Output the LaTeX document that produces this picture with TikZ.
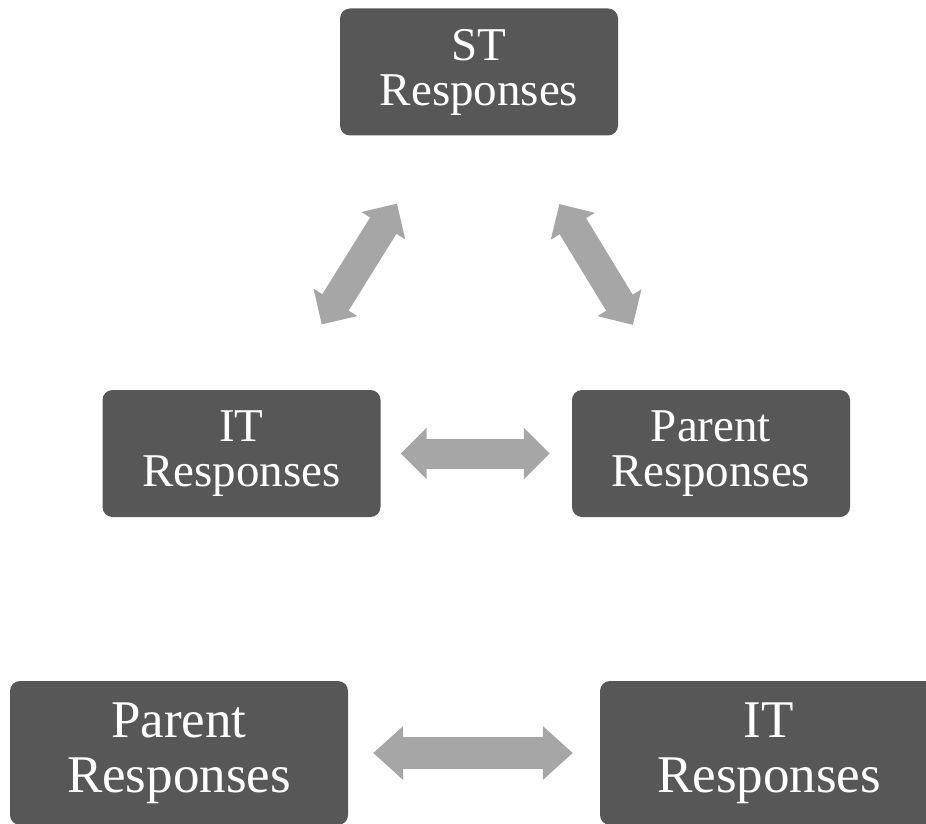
\documentclass[tikz,border=0pt]{standalone}
\usepackage{fontspec}
\setmainfont{Liberation Serif}
\usetikzlibrary{arrows.meta}

\begin{document}
\begin{tikzpicture}[
        % Environment Config
        x=1pt, y=-1pt,
        MyBox/.style={% Style for the response boxes
          rounded corners=10pt,
          fill=black!66,
          text=white,
          align=center,
          inner sep=0pt,
          minimum width=278pt,
          minimum height=127pt,
          font=\fontsize{47}{45}\selectfont
        },
        BigBox/.style={% Style for the larger boxes at the bottom
          MyBox,
          minimum width=338pt,
          minimum height=144pt,
          font=\fontsize{53}{55}\selectfont
        },
        MyArrow/.style={% Style for the thick double arrows
          {Triangle[length=26pt,width=50pt]}-{Triangle[length=26pt,width=50pt]},
          black!35,
          line width=31pt
        }
      ]

      \useasboundingbox (0,0) rectangle (926,824);

      % Put the triangle of boxes
      \node[MyBox] (ST) at (479,72) {ST\\Responses};
      \node[MyBox] (IT) at (241.5,453.5) {IT\\Responses};
      \node[MyBox] (PA) at (711,453.5) {Parent\\Responses};

      % Put the pair at the bottom
      \node[BigBox] (PA2) at (179,753) {Parent\\Responses};
      \node[BigBox] (IT2) at (769,753) {IT\\Responses};

      % Draw the arrows
      \draw[MyArrow, shorten <=80pt, shorten >=77pt] (ST) -- (IT);
      \draw[MyArrow, shorten <=80pt, shorten >=76pt] (ST) -- (PA);
      \draw[MyArrow, line width=30pt, shorten <=20pt, shorten >=22pt] (IT) -- (PA);
      \draw[MyArrow, line width=32pt, {Triangle[length=30pt,width=52pt]}-{Triangle[length=30pt,width=52pt]},
        shorten <=25pt, shorten >=27pt] (PA2) -- (IT2);

      \end{tikzpicture}
\end{document}
